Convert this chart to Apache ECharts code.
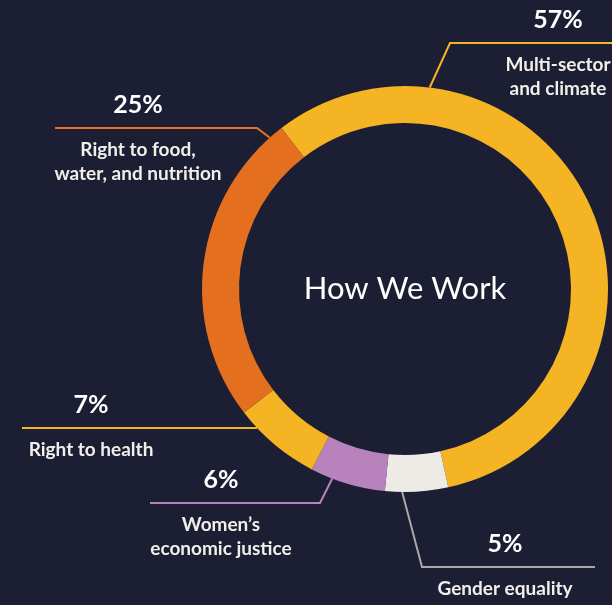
<!DOCTYPE html>
<html><head><meta charset="utf-8">
<script src="https://cdn.jsdelivr.net/npm/echarts@6/dist/echarts.min.js"></script>
<style>html,body{margin:0;padding:0;background:#1c1f33;} #c{width:612px;height:605px;}</style>
</head><body><div id="c"></div>
<script>
// ---- data ----
const categories = ['Multi-sector and climate', 'Gender equality', 'Women’s economic justice', 'Right to health', 'Right to food, water, and nutrition'];
const nameLines = [['Multi-sector', 'and climate'], ['Gender equality'], ['Women’s', 'economic justice'], ['Right to health'], ['Right to food,', 'water, and nutrition']];
const values = [57, 5, 6, 7, 25];
const sliceColors = ['#f5b423', '#eeebe6', '#b882bc', '#f5b423', '#e4701f'];
const lineColors = ['#f5b423', '#a9aaa8', '#b882bc', '#f5b423', '#e4701f'];
const titleText = 'How We Work';

// ---- layout ----
const CX = 405, CY = 289, R_OUT = 203, R_IN = 166;
const layoutCfg = [
  { a: 7, elbow: [450, 43], endX: 620, tx: 558 },
  { a: 180.8, elbow: [422, 567], endX: 595, tx: 505 },
  { a: 201, elbow: [320, 503], endX: 150, tx: 221 },
  { a: 226.8, elbow: null, endX: 22, tx: 91 },
  { a: 318.2, elbow: [257, 128], endX: 55, tx: 138 }
];
const FONT = 'Lato, "Noto Sans", sans-serif';

const chart = echarts.init(document.getElementById('c'), null, { renderer: 'canvas' });
chart.setOption({
  backgroundColor: '#1c1f33',
  animation: false,
  graphic: [{
    type: 'text', x: CX, y: CY,
    style: { text: titleText, align: 'center', verticalAlign: 'middle', fill: '#ffffff', font: 'normal 31px ' + FONT }
  }],
  series: [{
    type: 'pie',
    center: [CX, CY],
    radius: [R_IN, R_OUT],
    startAngle: 127.5,
    clockwise: true,
    avoidLabelOverlap: false,
    minShowLabelAngle: 0,
    data: values.map((v, i) => ({
      name: categories[i], value: v,
      itemStyle: { color: sliceColors[i] },
      labelLine: { lineStyle: { color: lineColors[i] } }
    })),
    label: {
      show: true,
      position: 'outside',
      fontFamily: FONT,
      formatter: (p) => '{p|' + p.value + '%}\n{g|}\n' + nameLines[p.dataIndex].map(l => '{n|' + l + '}').join('\n'),
      rich: {
        p: { fontSize: 25, fontWeight: 'bold', color: '#ffffff', lineHeight: 46, fontFamily: FONT, align: 'center' },
        g: { height: 10, lineHeight: 10, fontSize: 10 },
        n: { fontSize: 19, fontWeight: 'bold', color: '#f2efea', lineHeight: 24, fontFamily: FONT, align: 'center' }
      }
    },
    labelLine: { show: true, length: 10, length2: 10, lineStyle: { width: 2 } },
    labelLayout: function (params) {
      const i = params.dataIndex;
      const cfg = layoutCfg[i];
      const rad = cfg.a * Math.PI / 180;
      const start = [CX + R_OUT * Math.sin(rad), CY - R_OUT * Math.cos(rad)];
      const elbow = cfg.elbow || start;
      const lineY = elbow[1];
      return {
        x: cfg.tx, y: lineY - 46,
        align: 'center', verticalAlign: 'top',
        labelLinePoints: [start, elbow, [cfg.endX, lineY]]
      };
    }
  }]
});
</script></body></html>
